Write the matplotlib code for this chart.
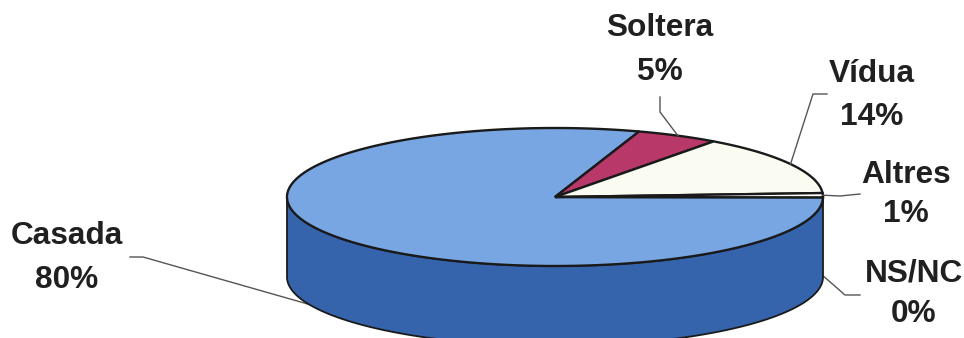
import numpy as np
import matplotlib
matplotlib.use("Agg")
import matplotlib.pyplot as plt
from matplotlib.patches import Polygon

# ---- data ----
categories = ['Casada', 'Soltera', 'Vídua', 'Altres', 'NS/NC']
values = [80, 5, 14, 1, 0]
pct_labels = ['80%', '5%', '14%', '1%', '0%']

# ---- style / layout ----
top_colors = ['#78a6e2', '#b8386a', '#fbfcf1', '#ffffff', '#ffffff']
side_colors = ['#3664ac', '#7a2046', '#c8cabc', '#d8d8d8', '#d8d8d8']
CX, CY, RX, RY, DEPTH = 555, 197, 268, 69, 80
START = -0.3  # degrees, slices go clockwise

label_pos = {
    'Casada': (67, 236, 280),
    'Soltera': (660, 28, 72),
    'Vídua': (872, 74, 117),
    'Altres': (906, 175, 214),
    'NS/NC': (914, 273, 314),
}
# leader: (depth fraction at anchor, elbow point, end point)
leaders = {
    'Casada': (0.94, (143, 257), (130, 257)),
    'Soltera': (0.0, (660, 112), (660, 97)),
    'Vídua': (0.0, (813, 94), (827, 94)),
    'Altres': (0.0, (840, 196), (860, 194)),
    'NS/NC': (0.98, (845, 295), (860, 295)),
}

fig = plt.figure(figsize=(9.64, 3.38), dpi=100)
ax = fig.add_axes([0, 0, 1, 1])
ax.set_xlim(0, 964)
ax.set_ylim(338, 0)
ax.axis('off')


def ell(t_deg, dy=0.0):
    t = np.radians(t_deg)
    return CX + RX * np.cos(t), CY - RY * np.sin(t) + dy


total = float(sum(values))
cum = np.concatenate([[0], np.cumsum(values)]) / total * 360.0
spans = []
for i in range(len(values)):
    a_start = START - cum[i]
    a_end = START - cum[i + 1]
    spans.append((a_end, a_start))  # ccw lo, hi

# side walls (front half only)
for i, (lo, hi) in enumerate(spans):
    if hi - lo <= 0:
        continue
    for k in (-1, 0, 1):
        flo, fhi = 180 + 360 * k, 360 + 360 * k
        a, b = max(lo, flo), min(hi, fhi)
        if b > a:
            t = np.linspace(a, b, 200)
            xt, yt = ell(t)
            xb, yb = ell(t[::-1], DEPTH)
            pts = np.column_stack([np.concatenate([xt, xb]), np.concatenate([yt, yb])])
            ax.add_patch(Polygon(pts, closed=True, facecolor=side_colors[i],
                                 edgecolor='#1a1a1a', lw=1.3, zorder=2))

# top faces
for i, (lo, hi) in enumerate(spans):
    if hi - lo <= 0:
        continue
    t = np.linspace(lo, hi, 400)
    xt, yt = ell(t)
    pts = np.column_stack([np.concatenate([[CX], xt]), np.concatenate([[CY], yt])])
    ax.add_patch(Polygon(pts, closed=True, facecolor=top_colors[i],
                         edgecolor='#1a1a1a', lw=1.7, joinstyle='miter', zorder=3))

# labels and leader lines
for i, name in enumerate(categories):
    lo, hi = spans[i]
    mid = (lo + hi) / 2.0
    frac, elbow, end = leaders[name]
    ax_, ay_ = ell(mid, DEPTH * frac)
    ax.plot([ax_, elbow[0], end[0]], [ay_, elbow[1], end[1]], color='#555555',
            lw=1.0, zorder=1 if frac > 0 else 4)
    x, y1, y2 = label_pos[name]
    ax.text(x, y1, name, ha='center', va='center', fontsize=22.8, fontweight='bold',
            family='Liberation Sans', color='#202020')
    ax.text(x, y2, pct_labels[i], ha='center', va='center', fontsize=22.8,
            fontweight='bold', family='Liberation Sans', color='#202020')

fig.savefig('out.png', dpi=100)
